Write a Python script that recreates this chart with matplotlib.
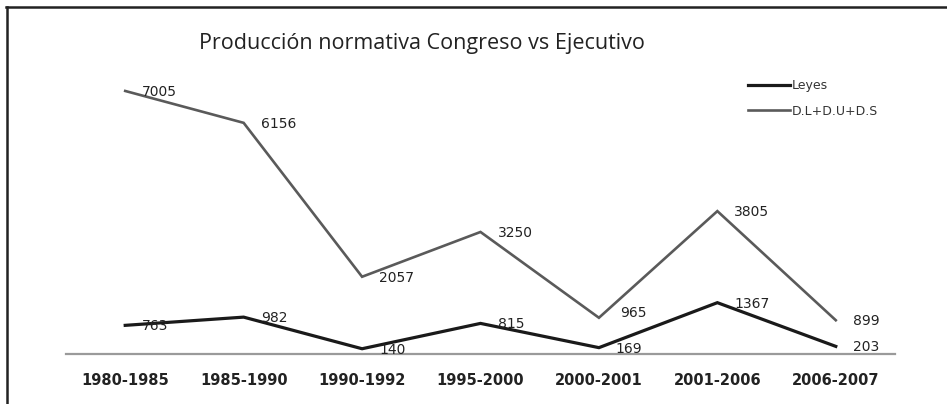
import matplotlib
matplotlib.use("Agg")
import matplotlib.pyplot as plt
from matplotlib.lines import Line2D

categories = ["1980-1985", "1985-1990", "1990-1992", "1995-2000", "2000-2001", "2001-2006", "2006-2007"]
leyes = [763, 982, 140, 815, 169, 1367, 203]
decretos = [7005, 6156, 2057, 3250, 965, 3805, 899]
series_names = ["Leyes", "D.L+D.U+D.S"]
title = "Producción normativa Congreso vs Ejecutivo"

fig = plt.figure(figsize=(9.47, 4.04), dpi=100)
fig.patch.set_facecolor("white")
ax = fig.add_axes([66 / 947, 1 - 354 / 404, 829 / 947, 300.4 / 404])

x = list(range(len(categories)))
ax.plot(x, leyes, color="#1a1a1a", lw=2.3, label=series_names[0], solid_joinstyle="miter")
ax.plot(x, decretos, color="#5a5a5a", lw=1.9, label=series_names[1], solid_joinstyle="miter")

ax.set_xlim(-0.5, len(categories) - 0.5)
ax.set_ylim(0, 8000)

for i, v in enumerate(leyes):
    ax.annotate(str(v), (i, v), xytext=(17, -1), textcoords="offset pixels",
                ha="left", va="center", fontsize=10, color="#222222")
for i, v in enumerate(decretos):
    off = (21, 5) if v == 965 else (17, -1)
    ax.annotate(str(v), (i, v), xytext=off, textcoords="offset pixels",
                ha="left", va="center", fontsize=10, color="#222222")

for s in ["top", "right", "left"]:
    ax.spines[s].set_visible(False)
ax.spines["bottom"].set_color("#9a9a9a")
ax.spines["bottom"].set_linewidth(1.6)
ax.set_yticks([])
ax.set_xticks(x)
ax.set_xticklabels(categories, fontsize=10.5, fontweight="bold", color="#222222")
ax.tick_params(axis="x", length=0, pad=14)

leg = ax.legend(loc="upper left", bbox_to_anchor=(0.823, 0.915), frameon=False,
                fontsize=9, handlelength=3.3, handletextpad=0.2, labelspacing=1.0,
                borderpad=0, borderaxespad=0)
for t in leg.get_texts():
    t.set_color("#333333")

fig.text(422 / 947, 1 - 43 / 404, title, ha="center", va="center",
         fontsize=15.5, family="Open Sans", color="#222222")

# outer frame (top and left)
fig.add_artist(Line2D([6 / 947, 1], [1 - 7 / 404, 1 - 7 / 404], transform=fig.transFigure,
                      color="#222222", lw=1.8))
fig.add_artist(Line2D([7 / 947, 7 / 947], [0, 1 - 7 / 404], transform=fig.transFigure,
                      color="#222222", lw=1.8))

fig.savefig("out.png", dpi=100)
